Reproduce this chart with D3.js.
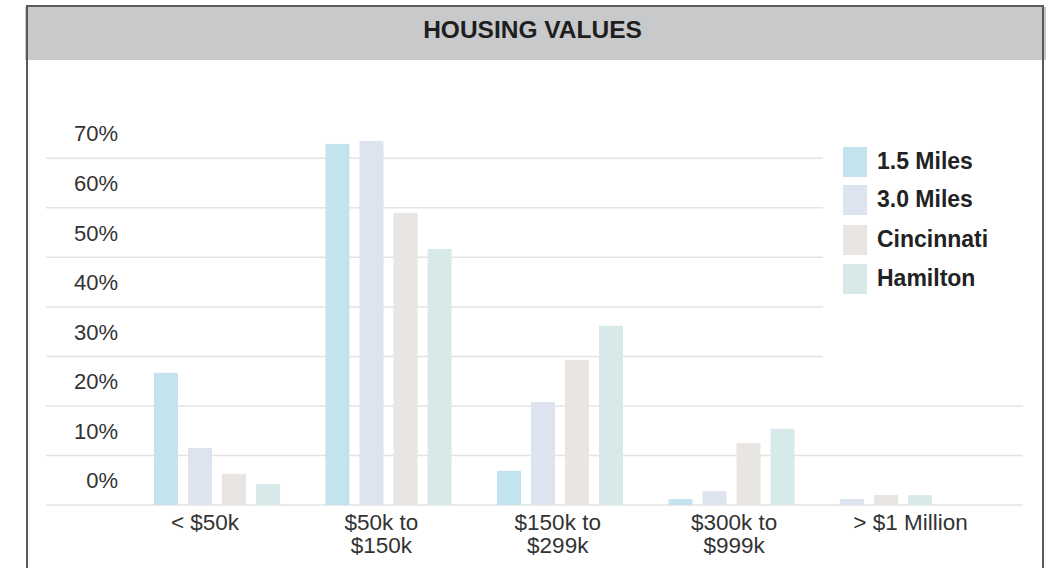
<!DOCTYPE html>
<html>
<head>
<meta charset="utf-8">
<script src="https://cdn.jsdelivr.net/npm/d3@7"></script>
<style>
  body { margin: 0; background: #fff; }
  svg { display: block; font-family: "Liberation Sans", Arial, sans-serif; }
</style>
</head>
<body>
<div id="chart"></div>
<script>
// Data
const categories = ["< $50k", "$50k to\n$150k", "$150k to\n$299k", "$300k to\n$999k", "> $1 Million"];
const seriesNames = ["1.5 Miles", "3.0 Miles", "Cincinnati", "Hamilton"];
const miles15 = [26.7, 72.9, 6.9, 1.2, null];
const miles30 = [11.5, 73.5, 20.8, 2.8, 1.2];
const cincinnati = [6.3, 59.0, 29.3, 12.5, 2.0];
const hamilton = [4.2, 51.7, 36.2, 15.4, 2.0];
const yTicks = [0, 10, 20, 30, 40, 50, 60, 70];
const colors = ["#c3e4ee", "#dde3ef", "#e8e5e2", "#d8e9e9"];

const seriesValues = [miles15, miles30, cincinnati, hamilton];

const width = 1051;
const height = 568;

const svg = d3.select("#chart").append("svg")
    .attr("width", width)
    .attr("height", height);

// Frame and header band
svg.append("rect")
    .attr("x", 25).attr("y", 7)
    .attr("width", 1021).attr("height", 53)
    .attr("fill", "#c8c9cb");

svg.append("path")
    .attr("d", "M27,570 L27,6 L1043,6 L1043,570")
    .attr("fill", "none")
    .attr("stroke", "#5a5a5c")
    .attr("stroke-width", 2);

svg.append("text")
    .attr("x", 532.5)
    .attr("y", 38)
    .attr("text-anchor", "middle")
    .attr("font-size", 24.5)
    .attr("font-weight", "bold")
    .attr("fill", "#1e1e1e")
    .text("HOUSING VALUES");

// Scales
const y = d3.scaleLinear().domain([0, 70]).range([505, 158.3]);

const x0 = d3.scaleBand()
    .domain(categories)
    .range([154, 966])
    .paddingInner(0.265)
    .paddingOuter(0)
    .align(0);

const x1 = d3.scaleBand()
    .domain(d3.range(seriesNames.length))
    .range([0, x0.bandwidth()])
    .paddingInner(0.294)
    .paddingOuter(0);

// category labels sit on their own spacing
const xLabel = d3.scalePoint()
    .domain(categories)
    .range([205, 910.5]);

// Gridlines (shorter where the legend sits)
svg.append("g")
    .selectAll("line")
    .data(yTicks)
    .join("line")
    .attr("x1", 46)
    .attr("x2", d => d >= 30 ? 823 : 1023)
    .attr("y1", d => y(d))
    .attr("y2", d => y(d))
    .attr("stroke", "#e3e3e3")
    .attr("stroke-width", 1.5);

// Y labels, placed half a step above each gridline
const half = (y(0) - y(10)) / 2;
svg.append("g")
    .selectAll("text")
    .data(yTicks)
    .join("text")
    .attr("x", 118)
    .attr("y", d => y(d) - half)
    .attr("dy", "0.36em")
    .attr("text-anchor", "end")
    .attr("font-size", 22)
    .attr("fill", "#333")
    .text(d => d + "%");

// Bars: missing series are skipped so the rest start at the group's left edge
const barData = [];
categories.forEach((c, ci) => {
    let slot = 0;
    seriesValues.forEach((vals, si) => {
        const v = vals[ci];
        if (v == null) return;
        barData.push({ category: c, series: si, slot: slot, value: v });
        slot++;
    });
});

svg.append("g")
    .selectAll("rect")
    .data(barData)
    .join("rect")
    .attr("x", d => x0(d.category) + x1(d.slot))
    .attr("y", d => y(d.value))
    .attr("width", x1.bandwidth())
    .attr("height", d => y(0) - y(d.value))
    .attr("fill", d => colors[d.series]);

// Category labels
const catLabels = svg.append("g")
    .selectAll("text")
    .data(categories)
    .join("text")
    .attr("x", d => xLabel(d))
    .attr("y", 530)
    .attr("text-anchor", "middle")
    .attr("font-size", 22.5)
    .attr("fill", "#333");

catLabels.each(function(d) {
    const lines = d.split("\n");
    d3.select(this).selectAll("tspan")
        .data(lines)
        .join("tspan")
        .attr("x", xLabel(d))
        .attr("dy", (l, i) => i === 0 ? 0 : 23)
        .text(l => l);
});

// Legend
const legendY = [147, 185, 225, 264];
const legend = svg.append("g")
    .selectAll("g")
    .data(seriesNames)
    .join("g")
    .attr("transform", (d, i) => `translate(843, ${legendY[i]})`);

legend.append("rect")
    .attr("width", 24)
    .attr("height", 30)
    .attr("fill", (d, i) => colors[i]);

legend.append("text")
    .attr("x", 34)
    .attr("y", 14)
    .attr("dy", "0.36em")
    .attr("font-size", 23)
    .attr("font-weight", "bold")
    .attr("fill", "#222")
    .text(d => d);
</script>
</body>
</html>
